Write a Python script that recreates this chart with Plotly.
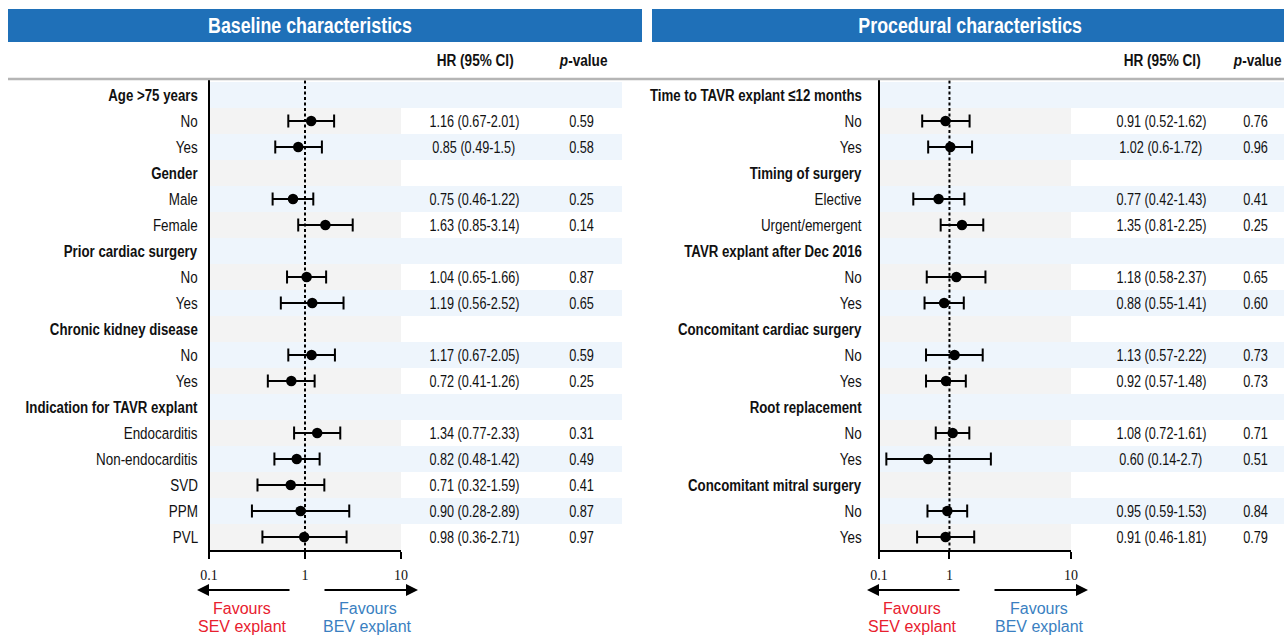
import json
import plotly.graph_objects as go

# ---------------- data ----------------
labels_left = ["Age >75 years", "No", "Yes", "Gender", "Male", "Female",
               "Prior cardiac surgery", "No", "Yes", "Chronic kidney disease", "No", "Yes",
               "Indication for TAVR explant", "Endocarditis", "Non-endocarditis", "SVD", "PPM", "PVL"]
group_left = [0, 3, 6, 9, 12]
hr_left = [None, 1.16, 0.85, None, 0.75, 1.63, None, 1.04, 1.19, None, 1.17, 0.72,
           None, 1.34, 0.82, 0.71, 0.90, 0.98]
lo_left = [None, 0.67, 0.49, None, 0.46, 0.85, None, 0.65, 0.56, None, 0.67, 0.41,
           None, 0.77, 0.48, 0.32, 0.28, 0.36]
hi_left = [None, 2.01, 1.5, None, 1.22, 3.14, None, 1.66, 2.52, None, 2.05, 1.26,
           None, 2.33, 1.42, 1.59, 2.89, 2.71]
hrtxt_left = ["", "1.16 (0.67-2.01)", "0.85 (0.49-1.5)", "", "0.75 (0.46-1.22)", "1.63 (0.85-3.14)",
              "", "1.04 (0.65-1.66)", "1.19 (0.56-2.52)", "", "1.17 (0.67-2.05)", "0.72 (0.41-1.26)",
              "", "1.34 (0.77-2.33)", "0.82 (0.48-1.42)", "0.71 (0.32-1.59)", "0.90 (0.28-2.89)",
              "0.98 (0.36-2.71)"]
p_left = ["", "0.59", "0.58", "", "0.25", "0.14", "", "0.87", "0.65", "", "0.59", "0.25",
          "", "0.31", "0.49", "0.41", "0.87", "0.97"]

labels_right = ["Time to TAVR explant \u226412 months", "No", "Yes", "Timing of surgery", "Elective",
                "Urgent/emergent", "TAVR explant after Dec 2016", "No", "Yes",
                "Concomitant cardiac surgery", "No", "Yes", "Root replacement", "No", "Yes",
                "Concomitant mitral surgery", "No", "Yes"]
group_right = [0, 3, 6, 9, 12, 15]
hr_right = [None, 0.91, 1.02, None, 0.77, 1.35, None, 1.18, 0.88, None, 1.13, 0.92,
            None, 1.08, 0.60, None, 0.95, 0.91]
lo_right = [None, 0.52, 0.6, None, 0.42, 0.81, None, 0.58, 0.55, None, 0.57, 0.57,
            None, 0.72, 0.22, None, 0.59, 0.46]
hi_right = [None, 1.62, 1.72, None, 1.43, 2.25, None, 2.37, 1.41, None, 2.22, 1.48,
            None, 1.61, 2.7, None, 1.53, 1.81]
hrtxt_right = ["", "0.91 (0.52-1.62)", "1.02 (0.6-1.72)", "", "0.77 (0.42-1.43)", "1.35 (0.81-2.25)",
               "", "1.18 (0.58-2.37)", "0.88 (0.55-1.41)", "", "1.13 (0.57-2.22)", "0.92 (0.57-1.48)",
               "", "1.08 (0.72-1.61)", "0.60 (0.14-2.7)", "", "0.95 (0.59-1.53)", "0.91 (0.46-1.81)"]
p_right = ["", "0.76", "0.96", "", "0.41", "0.25", "", "0.65", "0.60", "", "0.73", "0.73",
           "", "0.71", "0.51", "", "0.84", "0.79"]

tick_labels = ["0.1", "1", "10"]
titles = ["Baseline characteristics", "Procedural characteristics"]

# ---------------- layout helpers ----------------
W, H = 1284, 638
def px(x):
    return x / W
def py(y):
    return 1 - y / H

FONT = "Liberation Sans, Arial, sans-serif"
SERIF = "Liberation Serif, Times New Roman, serif"
TXT = "#111111"
BLUE_BG = "#eef5fc"
GRAY_BG = "#f3f3f3"
HEAD = "#1f70b8"
RED = "#e8202e"
BLUE_T = "#3a7fc1"

n = len(labels_left)
fig = go.Figure()

panels = [
    dict(xa="x", ya="y", labels=labels_left, groups=group_left, hr=hr_left, lo=lo_left, hi=hi_left,
         hrtxt=hrtxt_left, p=p_left, plot=(209, 401), table_end=622, label_x=200, hr_x=474, p_x=581,
         head=(8, 642), title_x=310, arrows=(291, 197, 323, 418), red_x=242, blue_x=368),
    dict(xa="x2", ya="y2", labels=labels_right, groups=group_right, hr=hr_right, lo=lo_right, hi=hi_right,
         hrtxt=hrtxt_right, p=p_right, plot=(879, 1071), table_end=1284, label_x=864, hr_x=1161, p_x=1255,
         head=(652, 1284), title_x=970, arrows=(961, 867, 993, 1088), red_x=912, blue_x=1039),
]

shapes = []
annotations = []
squeeze = []   # horizontal condensing factor per annotation (mimics the condensed typeface)
anchors = []

def add_ann(a, f=1.0):
    annotations.append(a)
    squeeze.append(f)
    anchors.append(a.get("xanchor", "center"))

for k, P in enumerate(panels):
    for i in range(n):
        if i % 2 == 0:
            x0, x1, col = P["plot"][0], P["table_end"], BLUE_BG
        else:
            x0, x1, col = P["plot"][0], P["plot"][1], GRAY_BG
        shapes.append(dict(type="rect", xref="paper", yref=P["ya"], x0=px(x0), x1=px(x1),
                           y0=i - 0.5, y1=i + 0.5, fillcolor=col, line=dict(width=0), layer="below"))
    shapes.append(dict(type="line", xref=P["xa"], yref="paper", x0=1, x1=1, y0=py(551), y1=py(80),
                       line=dict(color="black", width=2, dash="3px,2.5px"), layer="below"))
    shapes.append(dict(type="line", xref=P["xa"] + " domain", yref="paper", x0=0, x1=0,
                       y0=py(558), y1=py(80), line=dict(color="black", width=2)))
    shapes.append(dict(type="rect", xref="paper", yref="paper", x0=px(P["head"][0]), x1=px(P["head"][1]),
                       y0=py(42), y1=py(9), fillcolor=HEAD, line=dict(width=0)))
    add_ann(dict(text="<b>%s</b>" % titles[k], xref="paper", yref="paper", x=px(P["title_x"]),
                 y=py(26), showarrow=False, xanchor="center", yanchor="middle",
                 font=dict(family=FONT, size=22, color="white")), 0.81)
    add_ann(dict(text="<b>HR (95% CI)</b>", xref="paper", yref="paper", x=px(P["hr_x"] + 1),
                 y=py(60), showarrow=False, xanchor="center", yanchor="middle",
                 font=dict(family=FONT, size=17, color=TXT)), 0.8)
    add_ann(dict(text="<b><i>p</i>-value</b>", xref="paper", yref="paper", x=px(P["p_x"] + 2),
                 y=py(60), showarrow=False, xanchor="center", yanchor="middle",
                 font=dict(family=FONT, size=17, color=TXT)), 0.8)
    for i in range(n):
        bold = i in P["groups"]
        lab = "<b>%s</b>" % P["labels"][i] if bold else P["labels"][i]
        add_ann(dict(text=lab, xref="paper", yref=P["ya"], x=px(P["label_x"]), y=i,
                     showarrow=False, xanchor="right", yanchor="middle",
                     font=dict(family=FONT, size=17, color=TXT)), 0.78 if bold else 0.79)
        if P["hrtxt"][i]:
            add_ann(dict(text=P["hrtxt"][i], xref="paper", yref=P["ya"], x=px(P["hr_x"]), y=i,
                         showarrow=False, xanchor="center", yanchor="middle",
                         font=dict(family=FONT, size=17, color=TXT)), 0.745)
        if P["p"][i]:
            add_ann(dict(text=P["p"][i], xref="paper", yref=P["ya"], x=px(P["p_x"]), y=i,
                         showarrow=False, xanchor="center", yanchor="middle",
                         font=dict(family=FONT, size=17, color=TXT)), 0.75)
    idx = [i for i in range(n) if P["hr"][i] is not None]
    xs = [P["hr"][i] for i in idx]
    plus = [P["hi"][i] - P["hr"][i] for i in idx]
    minus = [P["hr"][i] - P["lo"][i] for i in idx]
    fig.add_trace(go.Scatter(x=xs, y=idx, mode="markers", xaxis=P["xa"], yaxis=P["ya"],
                             marker=dict(color="black", size=10.5),
                             error_x=dict(type="data", symmetric=False, array=plus, arrayminus=minus,
                                          color="black", thickness=2, width=6.5),
                             showlegend=False, hoverinfo="skip"))
    a = P["arrows"]
    add_ann(dict(text="", xref="paper", yref="paper", x=px(a[1]), y=py(590), ax=a[0] - a[1], ay=0,
                 showarrow=True, arrowhead=2, arrowsize=1.2, arrowwidth=2, arrowcolor="black", standoff=0))
    add_ann(dict(text="", xref="paper", yref="paper", x=px(a[3]), y=py(590), ax=a[2] - a[3], ay=0,
                 showarrow=True, arrowhead=2, arrowsize=1.2, arrowwidth=2, arrowcolor="black", standoff=0))
    for txt, xx, yy, col in [("Favours", P["red_x"], 608, RED), ("SEV explant", P["red_x"], 626, RED),
                             ("Favours", P["blue_x"], 608, BLUE_T), ("BEV explant", P["blue_x"], 626, BLUE_T)]:
        add_ann(dict(text=txt, xref="paper", yref="paper", x=px(xx), y=py(yy), showarrow=False,
                     xanchor="center", yanchor="middle", font=dict(family=FONT, size=16, color=col)))

shapes.append(dict(type="line", xref="paper", yref="paper", x0=px(8), x1=px(1284), y0=py(79), y1=py(79),
                   line=dict(color="#b5b5b5", width=2.5)))

ydom = [py(550), py(82)]
common_x = dict(type="log", showgrid=False, zeroline=False, showline=True, linecolor="black", linewidth=2,
                ticks="outside", ticklen=7, tickwidth=2, tickcolor="black", ticklabelstandoff=4,
                tickfont=dict(family=SERIF, size=14, color=TXT), fixedrange=True, automargin=False)
lo_r, hi_r = -0.734, 1.266
fig.update_layout(
    width=W, height=H, margin=dict(l=0, r=0, t=0, b=0, autoexpand=False), autosize=False,
    paper_bgcolor="white", plot_bgcolor="rgba(0,0,0,0)",
    xaxis=dict(domain=[px(209), px(401)], range=[-1, 1], anchor="y",
               tickvals=[0.1, 1, 10], ticktext=tick_labels, **common_x),
    xaxis2=dict(domain=[px(879), px(1071)], range=[lo_r, hi_r], anchor="y2",
                tickvals=[10 ** lo_r, 1, 10 ** hi_r], ticktext=tick_labels, **common_x),
    yaxis=dict(domain=ydom, range=[n - 0.5, -0.5], visible=False, anchor="x", fixedrange=True),
    yaxis2=dict(domain=ydom, range=[n - 0.5, -0.5], visible=False, anchor="x2", fixedrange=True),
    shapes=shapes, annotations=annotations,
)

post = """
document.documentElement.style.margin = '0';
document.body.style.margin = '0';
document.body.style.overflow = 'hidden';
var F = %s, A = %s;
var gd = document.querySelector('.js-plotly-plot');
gd.querySelectorAll('g.annotation').forEach(function (g) {
  var i = parseInt(g.getAttribute('data-index'));
  var f = F[i];
  if (!f || f >= 1) return;
  var t = g.querySelector('text.annotation-text');
  if (!t) return;
  var bb = t.getBBox();
  var cx = A[i] === 'right' ? bb.x + bb.width : bb.x + bb.width / 2;
  var prev = t.getAttribute('transform') || '';
  t.setAttribute('transform', prev + ' translate(' + cx + ',0) scale(' + f + ',1) translate(' + (-cx) + ',0)');
});
""" % (json.dumps(squeeze), json.dumps(anchors))

fig.write_html("out.html", config={"displayModeBar": False, "responsive": False}, post_script=post)
